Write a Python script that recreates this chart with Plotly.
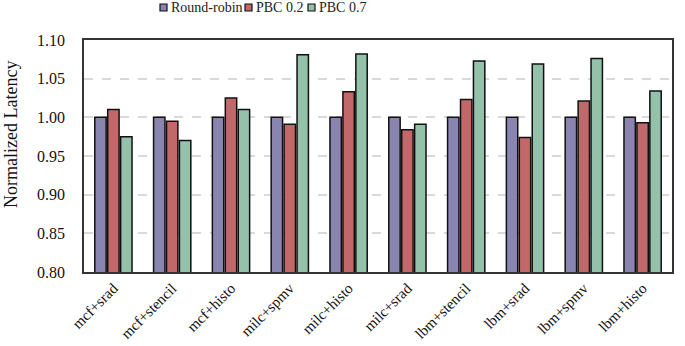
import plotly.graph_objects as go

categories = ["mcf+srad", "mcf+stencil", "mcf+histo", "milc+spmv", "milc+histo",
              "milc+srad", "lbm+stencil", "lbm+srad", "lbm+spmv", "lbm+histo"]
series_names = ["Round-robin", "PBC 0.2", "PBC 0.7"]
round_robin = [1.00, 1.00, 1.00, 1.00, 1.00, 1.00, 1.00, 1.00, 1.00, 1.00]
pbc_02 = [1.010, 0.995, 1.025, 0.991, 1.033, 0.984, 1.023, 0.974, 1.021, 0.993]
pbc_07 = [0.975, 0.970, 1.010, 1.081, 1.082, 0.991, 1.073, 1.069, 1.076, 1.034]
y_ticks = [0.80, 0.85, 0.90, 0.95, 1.00, 1.05, 1.10]

colors = ["#8A85B0", "#C3686A", "#94C1AA"]
FONT = "Liberation Serif, Times New Roman, serif"

fig = go.Figure()
for name, vals, col in zip(series_names, [round_robin, pbc_02, pbc_07], colors):
    fig.add_trace(go.Bar(x=categories, y=vals, name=name, showlegend=False,
                         marker=dict(color=col, line=dict(color="#111111", width=1.5))))

W, H = 685, 346
L, T = 84, 40
R = W - 672
B = H - 272
pw, ph = W - L - R, H - T - B
def px_x(p): return (p - L) / pw
def px_y(p): return (H - B - p) / ph

legend_box_x = [160, 245, 308]
for name, col, bx in zip(series_names, colors, legend_box_x):
    fig.add_shape(type="rect", xref="paper", yref="paper",
                  x0=px_x(bx), x1=px_x(bx + 7), y0=px_y(11), y1=px_y(4),
                  fillcolor=col, line=dict(color="#111111", width=1.2))
    fig.add_annotation(text=name, xref="paper", yref="paper", x=px_x(bx + 9), y=px_y(7.5),
                       xanchor="left", yanchor="middle", showarrow=False,
                       font=dict(family=FONT, size=14, color="#222222"))

# y-axis title
fig.add_annotation(text="Normalized Latency", xref="paper", yref="paper",
                   x=px_x(11), y=px_y(135), xanchor="center", yanchor="middle",
                   textangle=-90, showarrow=False,
                   font=dict(family=FONT, size=18, color="#111111"))

fig.update_layout(
    width=W, height=H,
    margin=dict(l=L, r=R, t=T, b=B, autoexpand=False),
    paper_bgcolor="white", plot_bgcolor="white",
    barmode="group", bargap=0.34, bargroupgap=0.12,
    font=dict(family=FONT, size=14, color="#111111"),
    showlegend=False,
    xaxis=dict(tickangle=-45, showline=True, mirror=True, linecolor="#333333", linewidth=1.5,
               ticks="", tickfont=dict(size=15), automargin=False),
    yaxis=dict(range=[0.80, 1.10], tickvals=y_ticks, tickformat=".2f",
               showline=True, mirror=True, linecolor="#333333", linewidth=1.5,
               showgrid=True, gridcolor="#D9D9D9", griddash="dash", gridwidth=1.5,
               ticks="", tickfont=dict(size=16), automargin=False, ticklabelstandoff=14),
)
fig.write_html("out.html", config={"displayModeBar": False},
               post_script="document.body.style.margin='0px';")
